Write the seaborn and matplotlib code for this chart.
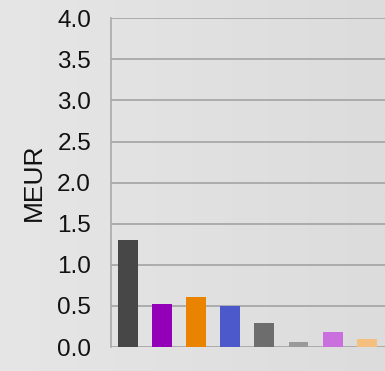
import numpy as np
import pandas as pd
import matplotlib
matplotlib.use("Agg")
import matplotlib.pyplot as plt
import seaborn as sns

# Values per category (MEUR)
categories = ["A", "B", "C", "D", "E", "F", "G", "H"]
values = [1.30, 0.52, 0.61, 0.50, 0.29, 0.06, 0.18, 0.10]
colors = ["#474747", "#9400b8", "#ea8300", "#4b59cb",
          "#6d6d6d", "#9a9a9a", "#c970de", "#f4bf7f"]
yticks = [0.0, 0.5, 1.0, 1.5, 2.0, 2.5, 3.0, 3.5, 4.0]

sns.set_theme(style="white")
plt.rcParams["font.family"] = ["Liberation Sans", "DejaVu Sans"]

df = pd.DataFrame({"category": categories, "value": values})

fig = plt.figure(figsize=(3.85, 3.71), dpi=100)

# soft horizontal gradient behind everything
bg = fig.add_axes([0, 0, 1, 1], zorder=-10)
grad = np.linspace(0, 1, 256).reshape(1, -1)
bg.imshow(grad, aspect="auto", cmap=matplotlib.colors.LinearSegmentedColormap.from_list(
    "bg", ["#e6e6e6", "#dcdcdc"]), extent=[0, 1, 0, 1])
bg.axis("off")

ax = fig.add_axes([110.5 / 385, (371 - 347) / 371, (385 - 110.5) / 385, (347 - 18.3) / 371])
ax.set_facecolor("none")

sns.barplot(data=df, x="category", y="value", hue="category", palette=colors,
            width=0.58, legend=False, ax=ax, saturation=1, zorder=3,
            linewidth=0, edgecolor="none")

ax.set_ylim(0, 4.0)
ax.set_xlim(-0.5, len(categories) - 0.5 + 0.03)
ax.set_yticks(yticks)
ax.set_yticklabels([f"{t:.1f}" for t in yticks], fontsize=17.5, color="#111111")
ax.tick_params(axis="y", length=0, pad=14)
ax.set_xticks([])
ax.set_xlabel("")
ax.set_ylabel("MEUR", fontsize=19, color="#111111", labelpad=8)

ax.grid(axis="y", color="#a3a3a3", linewidth=1.2, zorder=0)
for s in ["top", "right", "bottom"]:
    ax.spines[s].set_visible(False)
ax.spines["left"].set_color("#aaaaaa")
ax.spines["left"].set_linewidth(1.2)

fig.savefig("out.png", dpi=100)
